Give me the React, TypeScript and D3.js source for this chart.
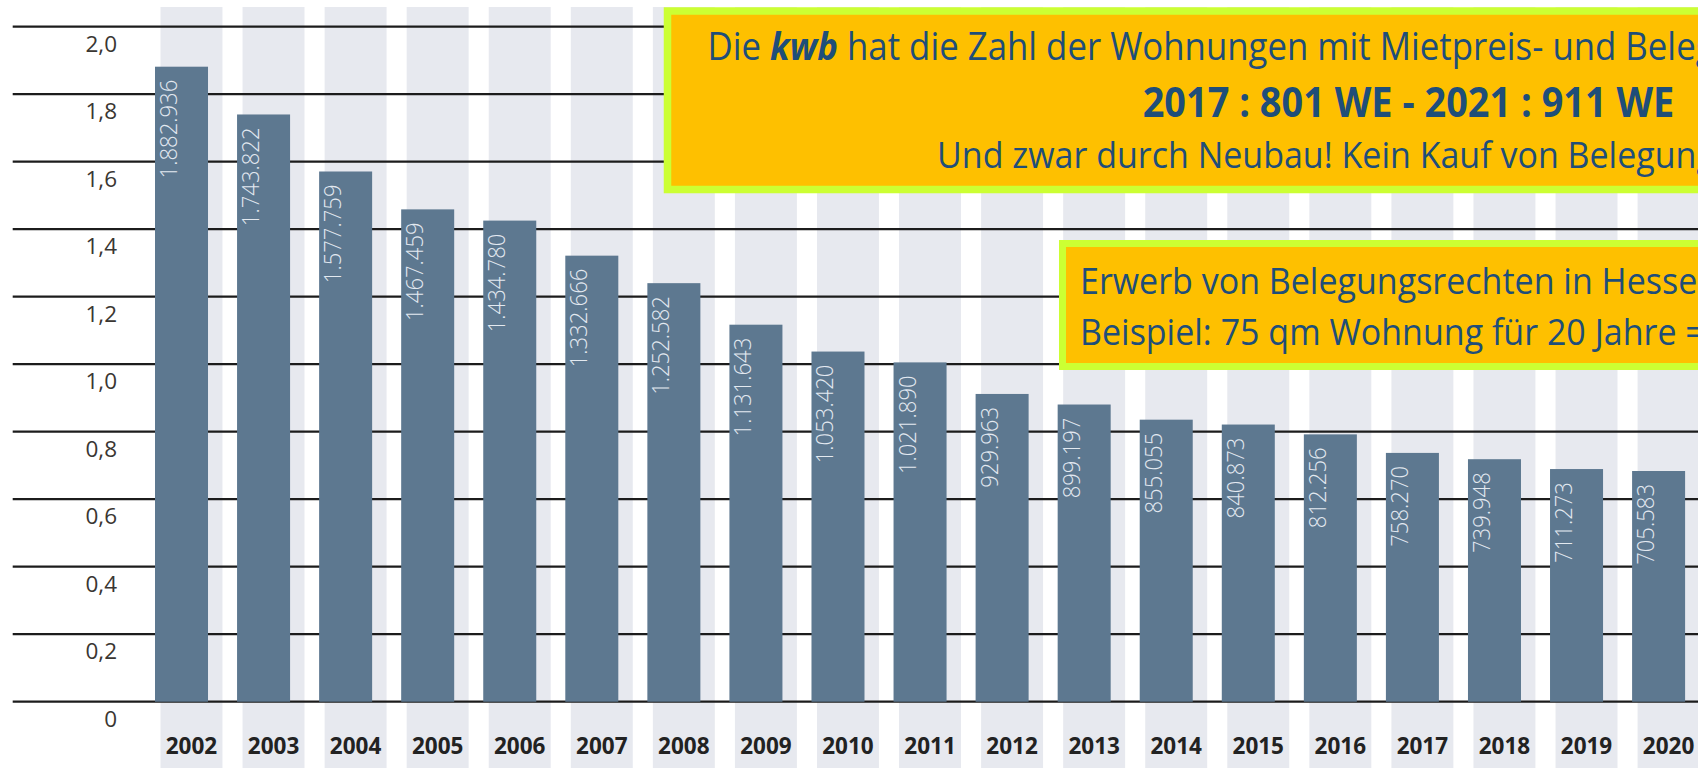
import React from 'react';
import * as d3 from 'd3';

const years = ['2002','2003','2004','2005','2006','2007','2008','2009','2010','2011','2012','2013','2014','2015','2016','2017','2018','2019','2020'];
const values = [1882936,1743822,1577759,1467459,1434780,1332666,1252582,1131643,1053420,1021890,929963,899197,855055,840873,812256,758270,739948,711273,705583];
const yTicks = [0,0.2,0.4,0.6,0.8,1.0,1.2,1.4,1.6,1.8,2.0];

const box1Line1Pre = 'Die ';
const box1Line1Em = 'kwb';
const box1Line1Post = ' hat die Zahl der Wohnungen mit Mietpreis- und Belegungsbindung erhöht:';
const box1Line2 = '2017 : 801 WE - 2021 : 911 WE';
const box1Line3 = 'Und zwar durch Neubau! Kein Kauf von Belegungsrechten.';
const box2Line1 = 'Erwerb von Belegungsrechten in Hessen';
const box2Line2 = 'Beispiel: 75 qm Wohnung für 20 Jahre =';

const FONT = '"Open Sans", "DejaVu Sans", sans-serif';
const BLUE = '#1f4e79';
const SX = 0.92;

export default function App() {
  const W = 1698, H = 768;
  const x = d3.scaleBand<string>().domain(years).range([155, 1685.1]).paddingInner(0.354).paddingOuter(0);
  const yAxis = d3.scaleLinear().domain([0, 2]).range([701.7, 26.7]);
  const yBar = d3.scaleLinear().domain([0, 2]).range([713.3, 26.5]);
  const de = d3.formatLocale({ decimal: ',', thousands: '.', grouping: [3], currency: ['', ''] });
  const fmtVal = de.format(',d');
  const fmtTick = (t: number) => (t === 0 ? '0' : de.format('.1f')(t));
  const bw = x.bandwidth();
  const stripeW = x.step() * 0.755;
  const base = yAxis(0);

  const boxText = (tx: number, ty: number, size: number, children: React.ReactNode, weight = 400) => (
    <text transform={`translate(${tx},${ty}) scale(${SX},1)`} fontSize={size / SX} fontWeight={weight} fill={BLUE}>{children}</text>
  );

  return (
    <svg width={W} height={H} style={{ position: 'absolute', left: 0, top: 0, display: 'block', background: '#fff' }} fontFamily={FONT}>
      <rect x={0} y={0} width={W} height={H} fill="#fff" />
      {years.map((yr) => (
        <rect key={'s' + yr} x={(x(yr) as number) + 5.5} y={7} width={stripeW} height={H - 7} fill="#e7e9ef" />
      ))}
      {yTicks.map((t) => (
        <line key={'g' + t} x1={12.7} x2={W} y1={yAxis(t)} y2={yAxis(t)} stroke="#1c1c1c" strokeWidth={2.2} />
      ))}
      {yTicks.map((t) => (
        <text key={'t' + t} x={117} y={yAxis(t) + 25} textAnchor="end" fontSize={22.5} fill="#3a3632">{fmtTick(t)}</text>
      ))}
      {years.map((yr, i) => {
        const top = yBar(values[i] / 1e6);
        const x0 = x(yr) as number;
        return (
          <g key={'b' + yr}>
            <rect x={x0} y={top} width={bw} height={base - top} fill="#5d7890" />
            <text transform={`translate(${x0 + 22},${top + 13}) rotate(-90) scale(0.92,1)`} textAnchor="end" fontSize={24} fontWeight={300} fill="#e3e9f0">{fmtVal(values[i])}</text>
          </g>
        );
      })}
      {years.map((yr) => (
        <text key={'y' + yr} x={(x(yr) as number) + 5.5 + stripeW / 2} y={754} textAnchor="middle" fontSize={22.5} fontWeight={700} fill="#222">{yr}</text>
      ))}
      <rect x={667.5} y={11} width={W} height={178.5} fill="#fec000" stroke="#ccff33" strokeWidth={7.5} />
      {boxText(707.5, 60, 34.8, <>
        <tspan>{box1Line1Pre}</tspan>
        <tspan fontWeight={700} fontStyle="italic">{box1Line1Em}</tspan>
        <tspan>{box1Line1Post}</tspan>
      </>)}
      {boxText(1142.7, 117, 37.9, box1Line2, 700)}
      {boxText(937, 168, 34, box1Line3)}
      <rect x={1062.5} y={243.5} width={W} height={123} fill="#fec000" stroke="#ccff33" strokeWidth={7} />
      {boxText(1080, 294, 34, box2Line1)}
      {boxText(1080, 345, 34, box2Line2)}
    </svg>
  );
}
